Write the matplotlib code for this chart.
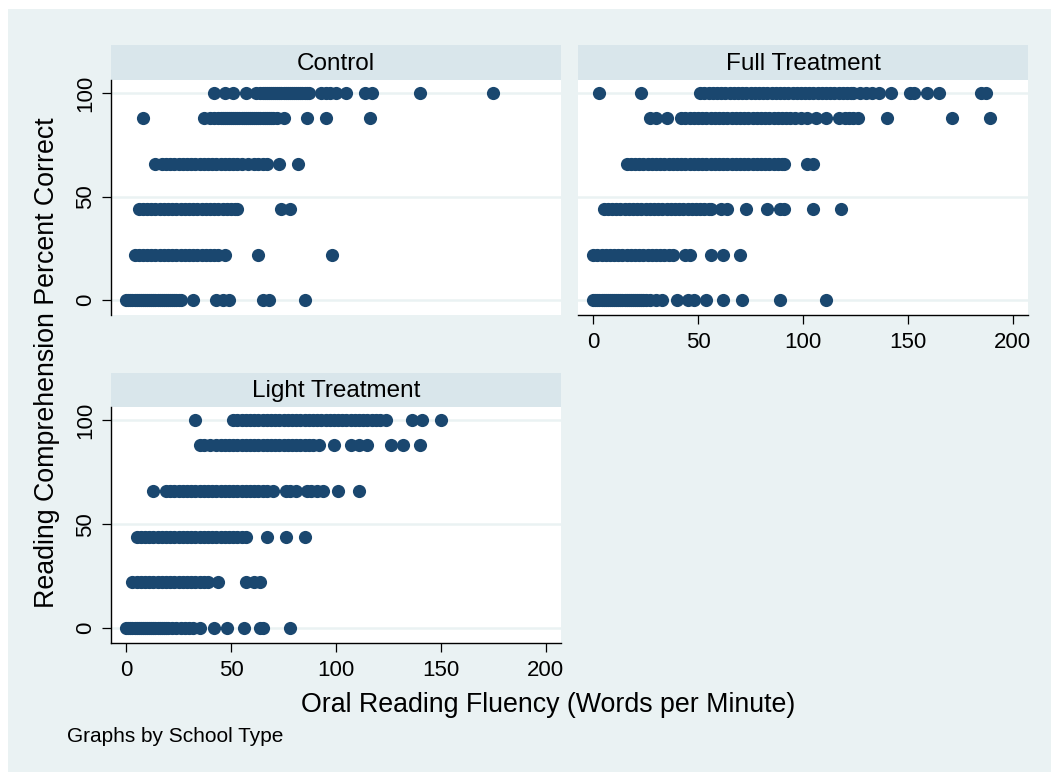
import matplotlib
matplotlib.use("Agg")
import matplotlib.pyplot as plt
from matplotlib.patches import Rectangle

plt.rcParams['font.family'] = ['Liberation Sans', 'DejaVu Sans']

# ---------------- data ----------------
levels = [0, 22, 44, 66, 88, 100]
panel_titles = ["Control", "Full Treatment", "Light Treatment"]
y_ticks = [0, 50, 100]
x_ticks = [0, 50, 100, 150, 200]

control_0 = [0, 1, 2, 3, 4, 5, 6, 7, 8, 9, 10, 11, 12, 13, 14, 15, 16, 17, 18, 19,
             20, 21, 22, 23, 24, 25, 26, 32, 43, 46, 49, 65, 68, 85]
control_22 = [4, 6, 8, 10, 12, 14, 16, 18, 20, 22, 24, 26, 28, 30, 32, 34, 36, 38,
              40, 42, 44, 47, 63, 98]
control_44 = [6, 8, 10, 12, 14, 16, 18, 20, 22, 24, 26, 28, 30, 32, 34, 36, 38, 40,
              42, 44, 46, 48, 50, 52, 53, 74, 78]
control_66 = [14, 17, 19, 21, 23, 25, 27, 29, 31, 33, 35, 37, 39, 41, 43, 45, 47, 49,
              51, 53, 55, 58, 61, 63, 65, 67, 73, 82]
control_88 = [8, 37, 40, 42, 44, 45, 46, 47, 48, 49, 50, 51, 52, 53, 54, 55, 56, 57,
              58, 59, 60, 61, 62, 63, 64, 65, 66, 67, 68, 69, 70, 72, 75, 86, 95, 116]
control_100 = [42, 47, 51, 57, 62, 64, 65, 66, 67, 68, 69, 70, 71, 72, 73, 74, 75,
               76, 77, 78, 79, 80, 81, 82, 83, 84, 85, 86, 87, 93, 95, 97, 100, 105,
               114, 117, 140, 175]

full_0 = [0, 1, 2, 3, 4, 5, 6, 7, 8, 9, 10, 11, 12, 13, 14, 15, 16, 17, 18, 19, 20,
          21, 22, 23, 24, 25, 27, 30, 33, 40, 45, 48, 54, 62, 71, 89, 111]
full_22 = [0, 2, 4, 6, 8, 10, 12, 14, 16, 18, 20, 22, 24, 26, 28, 30, 32, 34, 36, 38,
           44, 46, 56, 62, 70]
full_44 = [5, 7, 9, 11, 13, 15, 17, 19, 21, 23, 25, 27, 29, 31, 33, 35, 37, 39, 41,
           43, 45, 47, 49, 51, 53, 55, 56, 61, 64, 73, 83, 89, 91, 105, 118]
full_66 = [16, 18, 20, 22, 24, 26, 28, 30, 32, 34, 36, 38, 40, 42, 44, 46, 48, 50,
           52, 54, 56, 58, 60, 62, 64, 66, 68, 70, 72, 74, 76, 78, 80, 82, 84, 86,
           88, 90, 91, 102, 105]
full_88 = [27, 30, 35, 42, 44, 46, 48, 50, 52, 54, 56, 58, 60, 62, 64, 66, 68, 70,
           72, 74, 76, 78, 80, 82, 84, 86, 88, 90, 92, 94, 96, 99, 102, 106, 111,
           117, 120, 122, 124, 126, 140, 171, 189]
full_100 = [3, 23, 51, 53, 55, 57, 59, 61, 63, 65, 67, 69, 71, 73, 75, 77, 79, 81,
            83, 85, 87, 89, 91, 93, 95, 97, 99, 101, 103, 105, 107, 109, 111, 113,
            115, 117, 119, 121, 123, 124, 127, 130, 133, 136, 142, 151, 153, 159,
            165, 185, 187]

light_0 = [0, 1, 2, 3, 4, 5, 6, 7, 8, 9, 10, 11, 12, 13, 14, 15, 16, 17, 18, 19,
           20, 22, 24, 26, 28, 30, 32, 35, 42, 48, 56, 64, 65, 78]
light_22 = [3, 5, 7, 9, 11, 13, 15, 17, 19, 21, 23, 25, 27, 29, 31, 33, 35, 37, 39,
            44, 57, 61, 64]
light_44 = [5, 7, 9, 11, 13, 15, 17, 19, 21, 23, 25, 27, 29, 31, 33, 35, 37, 39, 41,
            43, 45, 47, 49, 51, 53, 55, 57, 67, 76, 85]
light_66 = [13, 19, 21, 23, 25, 27, 29, 31, 33, 35, 37, 39, 41, 43, 45, 47, 49, 51,
            53, 55, 57, 59, 61, 63, 65, 67, 70, 76, 78, 81, 86, 88, 91, 94, 101, 111]
light_88 = [35, 37, 40, 43, 45, 47, 49, 51, 53, 55, 57, 59, 61, 63, 65, 67, 69, 71,
            73, 75, 77, 79, 81, 83, 85, 87, 89, 92, 99, 107, 111, 115, 126, 132, 140]
light_100 = [33, 51, 53, 55, 57, 59, 61, 63, 65, 67, 69, 71, 73, 75, 77, 79, 81, 83,
             85, 87, 89, 91, 93, 95, 97, 99, 101, 103, 105, 107, 109, 111, 113, 115,
             117, 119, 121, 124, 136, 141, 150]

control = [control_0, control_22, control_44, control_66, control_88, control_100]
full = [full_0, full_22, full_44, full_66, full_88, full_100]
light = [light_0, light_22, light_44, light_66, light_88, light_100]

# ---------------- styling ----------------
W, H = 1051, 772
BG = '#EAF2F3'
STRIP = '#D9E6EB'
DOT = '#1A476F'

fig = plt.figure(figsize=(W / 100, H / 100), dpi=100)
fig.patch.set_facecolor('white')
fig.patches.append(Rectangle((8 / W, 0), 1 - 8 / W, 1 - 9 / H,
                             transform=fig.transFigure, facecolor=BG,
                             edgecolor='none', zorder=-10))


def px_axes(x0, y0, x1, y1):
    return fig.add_axes([x0 / W, 1 - y1 / H, (x1 - x0) / W, (y1 - y0) / H])


def panel(x0, x1, ytop, strip_h, ybot, title, rows, show_y, show_x):
    s = px_axes(x0, ytop, x1, ytop + strip_h)
    s.set_facecolor(STRIP)
    s.set_xticks([]); s.set_yticks([])
    for sp in s.spines.values():
        sp.set_visible(False)
    s.text(0.5, 0.46, title, ha='center', va='center', fontsize=17.5,
           transform=s.transAxes)

    ax = px_axes(x0, ytop + strip_h, x1, ybot)
    ax.set_facecolor('white')
    ax.set_xlim(-7.2, 207.2)
    ax.set_ylim(-7.2, 106.4)
    ax.set_axisbelow(True)
    ax.grid(axis='y', color=BG, linewidth=1.8)
    ax.grid(axis='x', visible=False)
    for lev, xs in zip(levels, rows):
        ax.scatter(xs, [lev] * len(xs), s=90, color=DOT, linewidths=0,
                   zorder=3, clip_on=False)
    for name in ('top', 'right'):
        ax.spines[name].set_visible(False)
    ax.spines['left'].set_visible(show_y)
    ax.spines['bottom'].set_visible(show_x)
    for name in ('left', 'bottom'):
        ax.spines[name].set_linewidth(1.0)
        ax.spines[name].set_color('black')
    ax.set_yticks(y_ticks)
    ax.set_xticks(x_ticks)
    ax.tick_params(axis='y', left=show_y, labelleft=show_y, length=6.5,
                   width=0.9, pad=4, labelsize=16)
    ax.tick_params(axis='x', bottom=show_x, labelbottom=show_x, length=6.5,
                   width=0.9, pad=6, labelsize=16)
    if show_y:
        ax.set_yticklabels([str(v) for v in y_ticks], rotation=90, va='center')
    return ax


panel(111, 561, 45, 35, 315, panel_titles[0], control, True, False)
panel(578, 1028, 45, 35, 315, panel_titles[1], full, False, True)
panel(111, 561, 373, 34, 643, panel_titles[2], light, True, True)

fig.text(548 / W, 1 - 705 / H, "Oral Reading Fluency (Words per Minute)",
         ha='center', va='center', fontsize=19.3)
fig.text(47 / W, 1 - 363 / H, "Reading Comprehension Percent Correct",
         ha='center', va='center', fontsize=19.3, rotation=90)
fig.text(67 / W, 1 - 742 / H, "Graphs by School Type", ha='left',
         va='baseline', fontsize=15)

fig.savefig("out.png", dpi=100, facecolor=fig.get_facecolor())
